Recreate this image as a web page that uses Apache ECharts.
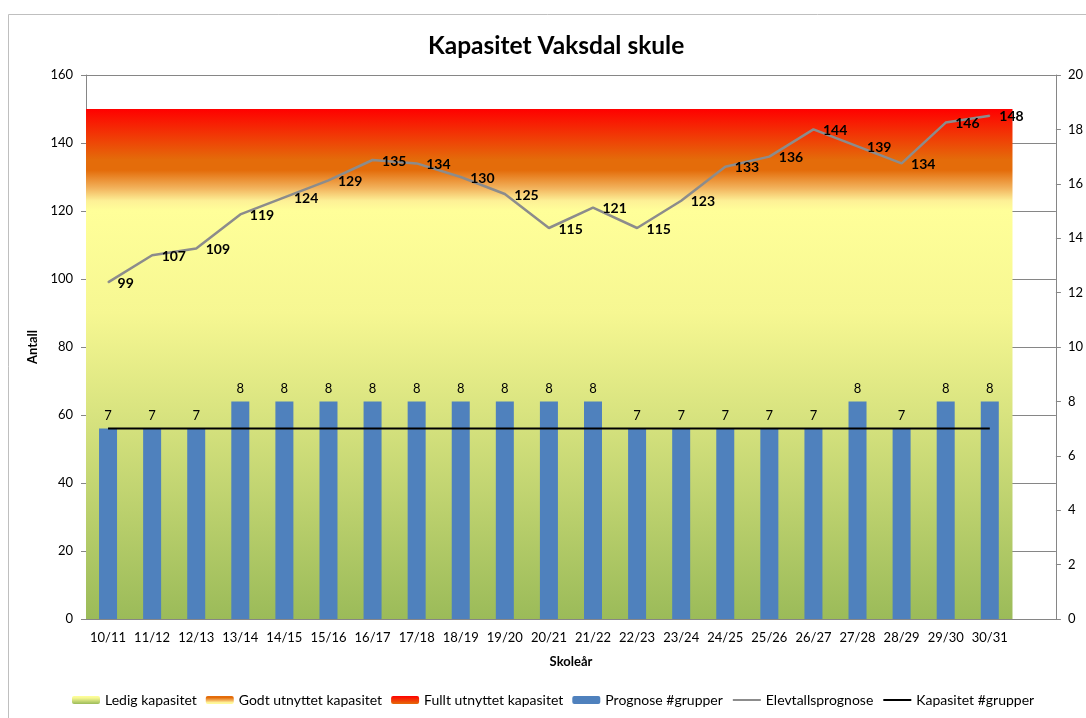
<!DOCTYPE html>
<html>
<head>
<meta charset="utf-8">
<script src="https://cdn.jsdelivr.net/npm/echarts@6/dist/echarts.min.js"></script>
<style>
  html, body { margin: 0; padding: 0; background: #fff; }
  #chart { width: 1086px; height: 718px; }
</style>
</head>
<body>
<div id="chart"></div>
<script>
"use strict";

// school years (last slot is empty, like the source chart)
var years = ['10/11', '11/12', '12/13', '13/14', '14/15', '15/16', '16/17', '17/18', '18/19', '19/20',
  '20/21', '21/22', '22/23', '23/24', '24/25', '25/26', '26/27', '27/28', '28/29', '29/30', '30/31', ''];

var ledig = [120, 120, 120, 120, 120, 120, 120, 120, 120, 120, 120, 120, 120, 120, 120, 120, 120, 120, 120, 120, 120, '-'];
var godt = [15, 15, 15, 15, 15, 15, 15, 15, 15, 15, 15, 15, 15, 15, 15, 15, 15, 15, 15, 15, 15, '-'];
var fullt = [15, 15, 15, 15, 15, 15, 15, 15, 15, 15, 15, 15, 15, 15, 15, 15, 15, 15, 15, 15, 15, '-'];

var grupper = [7, 7, 7, 8, 8, 8, 8, 8, 8, 8, 8, 8, 7, 7, 7, 7, 7, 8, 7, 8, 8, '-'];
var elevtall = [99, 107, 109, 119, 124, 129, 135, 134, 130, 125, 115, 121, 115, 123, 133, 136, 144, 139, 134, 146, 148, '-'];
var kapasitet = [7, 7, 7, 7, 7, 7, 7, 7, 7, 7, 7, 7, 7, 7, 7, 7, 7, 7, 7, 7, 7, '-'];

var font = 'Lato, "Open Sans", sans-serif';

function vgrad(stops) {
  return new echarts.graphic.LinearGradient(0, 0, 0, 1, stops.map(function (s) {
    return { offset: s[0], color: s[1] };
  }));
}

var chart = echarts.init(document.getElementById('chart'));

var option = {
  backgroundColor: '#ffffff',
  textStyle: { fontFamily: font },
  title: {
    text: 'Kapasitet Vaksdal skule',
    left: 423,
    top: 29,
    textStyle: { fontSize: 24.5, fontWeight: 'bold', color: '#000', fontFamily: font }
  },
  graphic: [{
    type: 'rect',
    shape: { x: 8.5, y: 14.5, width: 1100, height: 800 },
    style: { fill: 'none', stroke: '#bfbfbf', lineWidth: 1 },
    silent: true
  }],
  legend: {
    bottom: 6,
    left: 67,
    itemWidth: 28,
    itemHeight: 8,
    itemGap: 9,
    textStyle: { fontSize: 14, color: '#000', fontFamily: font },
    data: ['Ledig kapasitet', 'Godt utnyttet kapasitet', 'Fullt utnyttet kapasitet',
      'Prognose #grupper',
      { name: 'Elevtallsprognose', itemStyle: { opacity: 0 } },
      { name: 'Kapasitet #grupper', itemStyle: { opacity: 0 } }]
  },
  grid: { left: 86, right: 29, top: 75, bottom: 99 },
  xAxis: [{
    type: 'category',
    data: years,
    name: 'Skoleår',
    nameLocation: 'middle',
    nameGap: 36,
    nameTextStyle: { fontWeight: 'bold', fontSize: 13, color: '#000' },
    axisLine: { lineStyle: { color: '#868686' } },
    axisTick: { alignWithLabel: false, length: 5, lineStyle: { color: '#868686' } },
    axisLabel: { color: '#000', fontSize: 13, margin: 12, interval: 0 }
  }, {
    type: 'category',
    data: years,
    show: false
  }],
  yAxis: [{
    type: 'value',
    min: 0,
    max: 160,
    interval: 20,
    name: 'Antall',
    nameLocation: 'middle',
    nameGap: 40,
    nameRotate: 90,
    nameTextStyle: { fontWeight: 'bold', fontSize: 13, color: '#000' },
    axisLine: { show: true, lineStyle: { color: '#868686' } },
    axisTick: { show: true, length: 5, lineStyle: { color: '#868686' } },
    axisLabel: { color: '#000', fontSize: 13, margin: 13 },
    splitLine: { show: true, lineStyle: { color: '#868686', width: 1 } }
  }, {
    type: 'value',
    min: 0,
    max: 20,
    interval: 2,
    position: 'right',
    axisLine: { show: true, lineStyle: { color: '#868686' } },
    axisTick: { show: true, length: 5, lineStyle: { color: '#868686' } },
    axisLabel: { color: '#000', fontSize: 13, margin: 12 },
    splitLine: { show: false }
  }],
  series: [{
    name: 'Ledig kapasitet',
    type: 'bar',
    xAxisIndex: 1,
    yAxisIndex: 0,
    stack: 'bg',
    barWidth: '103%',
    data: ledig,
    itemStyle: { color: vgrad([[0, '#ffff99'], [0.25, '#f6f792'], [1, '#9bbb59']]) },
    silent: true
  }, {
    name: 'Godt utnyttet kapasitet',
    type: 'bar',
    xAxisIndex: 1,
    yAxisIndex: 0,
    stack: 'bg',
    barWidth: '103%',
    data: godt,
    itemStyle: { color: vgrad([[0, '#e46c0a'], [0.2, '#e46c0a'], [0.55, '#f2b25c'], [0.8, '#fdf096'], [1, '#ffff99']]) },
    silent: true
  }, {
    name: 'Fullt utnyttet kapasitet',
    type: 'bar',
    xAxisIndex: 1,
    yAxisIndex: 0,
    stack: 'bg',
    barWidth: '103%',
    data: fullt,
    itemStyle: { color: vgrad([[0, '#ff0000'], [1, '#e46c0a']]) },
    silent: true
  }, {
    name: 'Prognose #grupper',
    type: 'bar',
    xAxisIndex: 0,
    yAxisIndex: 1,
    barWidth: 18,
    data: grupper,
    itemStyle: { color: '#4f81bd' },
    label: { show: true, position: 'top', distance: 6, color: '#000', fontSize: 13 }
  }, {
    name: 'Elevtallsprognose',
    type: 'line',
    xAxisIndex: 0,
    yAxisIndex: 0,
    data: elevtall,
    symbol: 'circle',
    symbolSize: 1,
    lineStyle: { color: '#8c8c8c', width: 2.5 },
    itemStyle: { color: '#8c8c8c' },
    label: { show: true, position: 'right', distance: 9, offset: [0, 1], color: '#000', fontSize: 14, fontWeight: 'bold' },
    z: 5
  }, {
    name: 'Kapasitet #grupper',
    type: 'line',
    xAxisIndex: 0,
    yAxisIndex: 1,
    data: kapasitet,
    symbol: 'none',
    lineStyle: { color: '#000', width: 2 },
    itemStyle: { color: '#000' },
    z: 4
  }]
};

chart.setOption(option);
</script>
</body>
</html>
